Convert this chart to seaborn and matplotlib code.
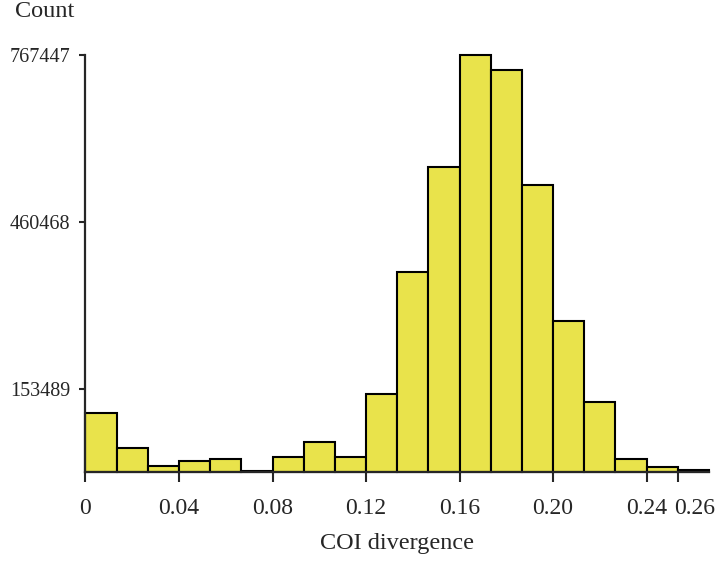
import numpy as np
import pandas as pd
import matplotlib
matplotlib.use("Agg")
import matplotlib.pyplot as plt
import matplotlib.transforms as mtransforms
import seaborn as sns

# Histogram data (bin width = 0.04/3)
bin_width = 0.04 / 3
bin_starts = [i * bin_width for i in range(20)]
counts = [108000, 44000, 11000, 20000, 24000, 2500, 28000, 55000, 28000, 143000,
          369000, 561000, 767447, 740000, 529000, 278000, 129000, 24000, 9000, 3000]

ytick_vals = [153489, 460468, 767447]
ytick_labels = ["153489", "460468", "767447"]
xtick_vals = [0, 0.04, 0.08, 0.12, 0.16, 0.20, 0.24, 19 * bin_width]
xtick_labels = ["0", "0.04", "0.08", "0.12", "0.16", "0.20", "0.24", "0.26"]

sns.set_style("ticks")
plt.rcParams['font.family'] = ['Liberation Serif', 'DejaVu Serif']

df = pd.DataFrame({"x": [s + bin_width / 2 for s in bin_starts], "w": counts})
edges = [i * bin_width for i in range(21)]

fig = plt.figure(figsize=(7.22, 5.63), dpi=100)
ax = fig.add_axes([0.1184, 0.1616, 0.8636, 0.7407])

sns.histplot(data=df, x="x", weights="w", bins=edges, ax=ax,
             color="#E9E34B", edgecolor="black", linewidth=1.5, alpha=1.0,
             clip_on=False)

ax.set_xlim(0, 20 * bin_width)
ax.set_ylim(0, 767447)
ax.set_yticks(ytick_vals)
ax.set_yticklabels(ytick_labels)
ax.set_xticks(xtick_vals)
ax.set_xticklabels(xtick_labels)
ax.tick_params(axis="x", length=7, width=1.5, pad=12, labelsize=17)
ax.tick_params(axis="y", length=4, width=1.5, pad=7, labelsize=14.5)
for s in ["top", "right"]:
    ax.spines[s].set_visible(False)
for s in ["left", "bottom"]:
    ax.spines[s].set_linewidth(1.6)

# last tick label sits to the right of its tick
last = ax.get_xticklabels()[-1]
last.set_horizontalalignment("left")
last.set_transform(last.get_transform() + mtransforms.ScaledTranslation(-4 / 100, 0, fig.dpi_scale_trans))

ax.set_ylabel("")
ax.set_xlabel("COI divergence", fontsize=17.5, labelpad=10)
fig.text(0.062, 0.98, "Count", ha="center", va="center", fontsize=17.5)

fig.savefig("out.png", dpi=100)
